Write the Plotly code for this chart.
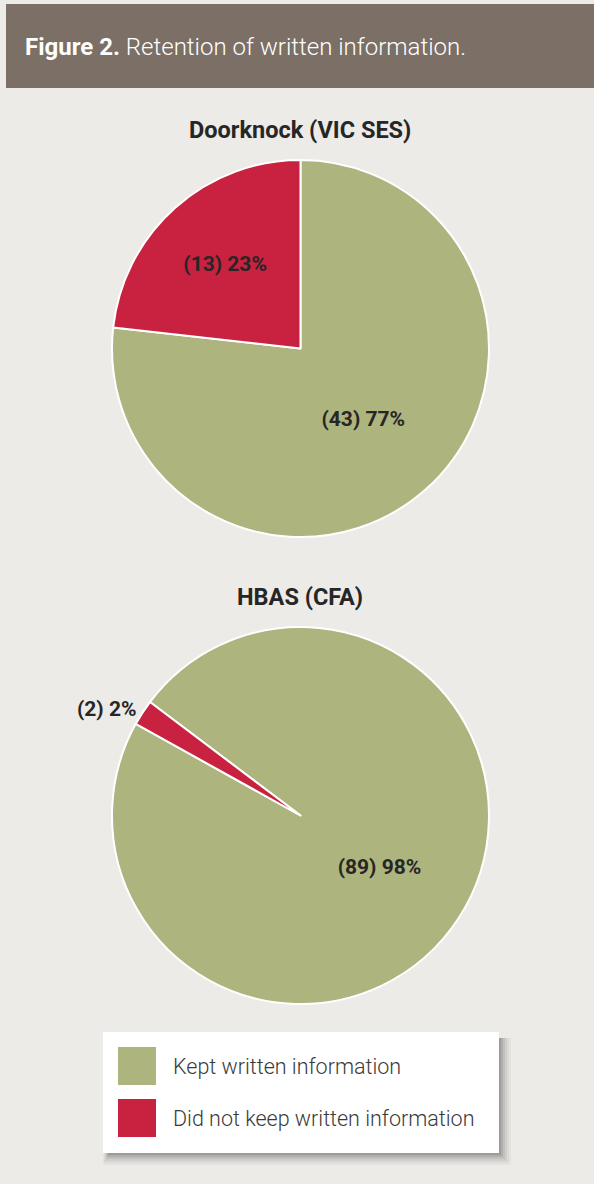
import plotly.graph_objects as go

categories = ["Kept written information", "Did not keep written information"]
doorknock_counts = [43, 13]
hbas_counts = [89, 2]
chart_titles = ["Doorknock (VIC SES)", "HBAS (CFA)"]
colors = ["#adb47d", "#c82240"]

W, H = 594, 1184
BG = "#ecebe7"
TXT = "#262626"
FONT = "Roboto"

def py(p):
    return 1 - p / H

def px(p):
    return p / W

fig = go.Figure()

fig.add_trace(go.Pie(
    labels=categories, values=doorknock_counts, sort=False, direction="clockwise",
    rotation=0,
    marker=dict(colors=colors, line=dict(color="white", width=2)),
    texttemplate="(%{value}) %{percent:.0%}", textposition="inside",
    insidetextorientation="horizontal",
    textfont=dict(family=FONT, size=21, color=TXT, weight="bold"),
    domain=dict(x=[px(112), px(489)], y=[py(537), py(160)]),
    showlegend=False, hoverinfo="label+value+percent",
))

fig.add_trace(go.Pie(
    labels=categories, values=hbas_counts, sort=False, direction="clockwise",
    rotation=-53,
    marker=dict(colors=colors, line=dict(color="white", width=2)),
    texttemplate="(%{value}) %{percent:.0%}", textposition=["inside", "outside"],
    insidetextorientation="horizontal",
    textfont=dict(family=FONT, size=21, color=TXT, weight="bold"),
    domain=dict(x=[px(112), px(489)], y=[py(1004), py(627)]),
    showlegend=False, hoverinfo="label+value+percent",
))

shapes = []
# header band
shapes.append(dict(type="rect", xref="paper", yref="paper", x0=px(6), x1=1.0,
                   y0=py(88), y1=py(4), fillcolor="#7b6f66", line=dict(width=0), layer="below"))
# legend shadow (layered soft)
for d, op in [(12, 0.04), (10, 0.05), (8, 0.07), (6, 0.09), (4, 0.12), (2, 0.16)]:
    shapes.append(dict(type="rect", xref="paper", yref="paper",
                       x0=px(103 + 6 - d / 2), x1=px(499 + d),
                       y0=py(1153 + d), y1=py(1032 + 6),
                       fillcolor=f"rgba(60,60,60,{op})", line=dict(width=0), layer="below"))
shapes.append(dict(type="rect", xref="paper", yref="paper", x0=px(103), x1=px(499),
                   y0=py(1153), y1=py(1032), fillcolor="white", line=dict(width=0), layer="below"))
annotations = []
legend_rows = [1066, 1118]
for cat, col, yc in zip(categories, colors, legend_rows):
    shapes.append(dict(type="rect", xref="paper", yref="paper", x0=px(118), x1=px(156),
                       y0=py(yc + 19), y1=py(yc - 19), fillcolor=col, line=dict(width=0)))
    annotations.append(dict(x=px(171), y=py(yc), xref="paper", yref="paper", text=cat,
                            showarrow=False, xanchor="left", yanchor="middle",
                            font=dict(family=FONT, size=21.5, color="#3a3a3a", weight=300)))

annotations.append(dict(x=px(23), y=py(47), xref="paper", yref="paper",
                        text="<b>Figure 2.</b> <span style='font-weight:300'>Retention of written information.</span>",
                        showarrow=False, xanchor="left", yanchor="middle",
                        font=dict(family=FONT, size=24, color="white")))
for t, yc in zip(chart_titles, [130, 597]):
    annotations.append(dict(x=px(300), y=py(yc), xref="paper", yref="paper", text=f"<b>{t}</b>",
                            showarrow=False, xanchor="center", yanchor="middle",
                            font=dict(family=FONT, size=23.5, color=TXT)))

fig.update_layout(
    width=W, height=H, margin=dict(l=0, r=0, t=0, b=0),
    paper_bgcolor=BG, plot_bgcolor=BG,
    shapes=shapes, annotations=annotations,
)

fig.write_html("out.html")
